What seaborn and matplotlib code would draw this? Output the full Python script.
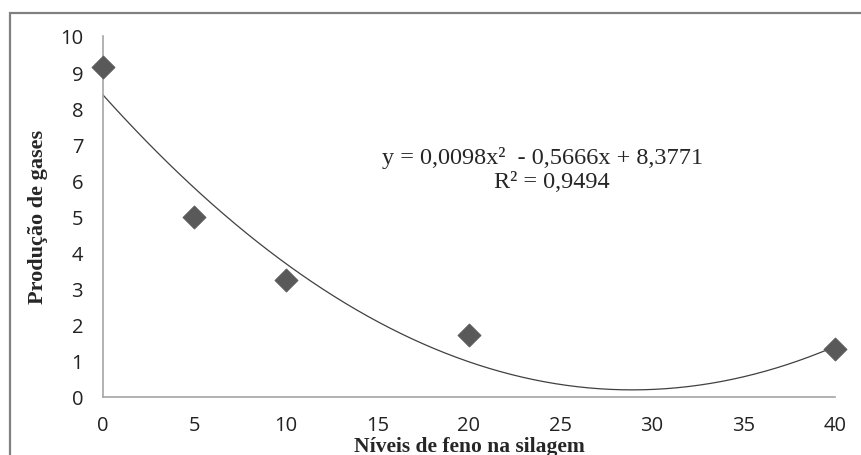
import numpy as np
import pandas as pd
import seaborn as sns
import matplotlib
matplotlib.use('Agg')
import matplotlib.pyplot as plt
from matplotlib.patches import Rectangle

# data
niveis = [0, 5, 10, 20, 40]
producao = [9.13, 4.97, 3.23, 1.72, 1.32]
# trendline coefficients (from the equation shown on the chart)
coef = [0.0098, -0.5666, 8.3771]
linha_eq = "y = 0,0098x\u00b2  - 0,5666x + 8,3771"
linha_r2 = "R\u00b2 = 0,9494"
x_ticks = [0, 5, 10, 15, 20, 25, 30, 35, 40]
y_ticks = list(range(0, 11))

sns.set_style('white')
plt.rcParams['font.family'] = ['Open Sans', 'DejaVu Sans']

fig = plt.figure(figsize=(8.62, 4.56), dpi=100)
ax = fig.add_axes([0.119, 0.128, 0.850, 0.791])

# outer frame (open on the right/bottom like the cropped original)
fig.patches.append(Rectangle((10.5 / 862, -0.1), 1.2, 1 - 13.5 / 456 + 0.1,
                             transform=fig.transFigure, fill=False,
                             edgecolor='#808080', linewidth=1.6))

df = pd.DataFrame({'x': niveis, 'y': producao})
xs = np.linspace(0, 40, 200)
trend = pd.DataFrame({'x': xs, 'y': np.polyval(coef, xs)})

sns.lineplot(data=trend, x='x', y='y', ax=ax, color='#404040', linewidth=0.9)
sns.scatterplot(data=df, x='x', y='y', ax=ax, marker='D', s=140,
                color='#595959', edgecolor='#595959', linewidth=0.5, zorder=3)
for c in ax.collections:
    c.set_clip_on(False)

ax.set_xlim(0, 40)
ax.set_ylim(0, 10)
ax.set_xticks(x_ticks)
ax.set_yticks(y_ticks)
ax.tick_params(axis='both', direction='out', length=5, width=1, color='#a6a6a6',
               labelsize=14.5, labelcolor='#222222')
ax.tick_params(axis='y', pad=9)
ax.tick_params(axis='x', pad=8)
for s in ['top', 'right']:
    ax.spines[s].set_visible(False)
for s in ['left', 'bottom']:
    ax.spines[s].set_color('#a6a6a6')
    ax.spines[s].set_linewidth(1.2)

ax.set_xlabel('Níveis de feno na silagem', family='Liberation Serif',
              fontweight='bold', fontsize=15.5)
ax.xaxis.set_label_coords(0.5, -0.108)
ax.set_ylabel('Produção de gases', family='Liberation Serif',
              fontweight='bold', fontsize=16, labelpad=9)

ax.text(24.0, 6.64, linha_eq, family='Liberation Serif', fontsize=17.5,
        ha='center', va='center')
ax.text(24.5, 5.97, linha_r2, family='Liberation Serif', fontsize=17.5,
        ha='center', va='center')

fig.savefig('out.png', dpi=100)
